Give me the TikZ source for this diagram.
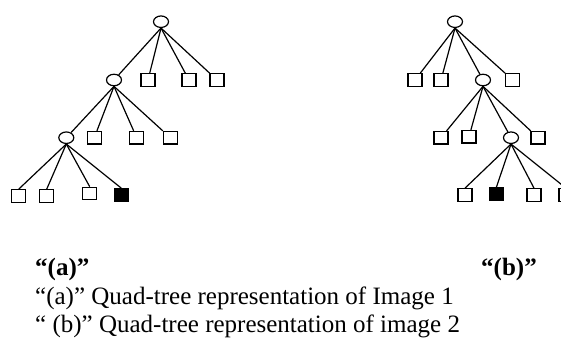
\documentclass[tikz,border=0pt]{standalone}
\usepackage{fontspec}
\setmainfont{Liberation Serif}
\usetikzlibrary{shapes.geometric}
\tikzset{
  inner/.style={draw, ellipse, line width=1.2pt, minimum width=15pt, minimum height=11.5pt, inner sep=0pt},
  leaf/.style={draw, rectangle, line width=1.2pt, minimum width=14pt, minimum height=12.5pt, inner sep=0pt},
  black leaf/.style={leaf, fill=black},
  link/.style={line width=1.2pt},
  caption/.style={anchor=base west, inner sep=0pt, font=\fontsize{25}{28}\selectfont},
  label/.style={caption, font=\fontsize{25}{28}\selectfont\bfseries}
}
\begin{document}
\begin{tikzpicture}[x=1pt,y=-1pt]
\clip (0,0) rectangle (561,340);
\fill[white] (0,0) rectangle (561,340);

% Quad-tree of image 1
\node[inner] (a0) at (161,21.7) {};
\node[inner] (a1) at (114,80) {};
\node[leaf]  (a1b) at (148,80) {};
\node[leaf]  (a1c) at (189,80) {};
\node[leaf]  (a1d) at (217,80) {};
\node[inner] (a2) at (66.3,137.7) {};
\node[leaf]  (a2b) at (94.3,137.7) {};
\node[leaf]  (a2c) at (136.7,137.7) {};
\node[leaf]  (a2d) at (170.3,137.7) {};
\node[leaf]  (a3a) at (18.7,196) {};
\node[leaf]  (a3b) at (46.7,196) {};
\node[leaf]  (a3c) at (89.7,193.5) {};
\node[black leaf] (a3d) at (121.3,195) {};
\foreach \c in {a1,a1b,a1c,a1d} \draw[link] (a0.south) -- (\c);
\foreach \c in {a2,a2b,a2c,a2d} \draw[link] (a1.south) -- (\c);
\foreach \c in {a3a,a3b,a3c,a3d} \draw[link] (a2.south) -- (\c.north);

% Quad-tree of image 2
\node[inner] (b0) at (455,21.7) {};
\node[leaf]  (b1a) at (415,80) {};
\node[leaf]  (b1b) at (441,80) {};
\node[inner] (b1) at (483,80) {};
\node[leaf]  (b1d) at (512.7,80) {};
\node[leaf]  (b2a) at (441,137.7) {};
\node[leaf]  (b2b) at (469,136.7) {};
\node[inner] (b2) at (511,137.7) {};
\node[leaf]  (b2d) at (538,137.7) {};
\node[leaf]  (b3a) at (465,195) {};
\node[black leaf] (b3b) at (496.3,194.3) {};
\node[leaf]  (b3c) at (534,195) {};
\node[leaf]  (b3d) at (566,195) {};
\foreach \c in {b1a,b1b,b1,b1d} \draw[link] (b0.south) -- (\c);
\foreach \c in {b2a,b2b,b2,b2d} \draw[link] (b1.south) -- (\c);
\foreach \c in {b3a,b3b,b3c,b3d} \draw[link] (b2.south) -- (\c.north);

% Labels and caption
\node[label] (la) at (35,275) {“(a)”};
\node[label] (lb) at (481,275) {“(b)”};
\node[caption] (ca) at (35,304.5) {“(a)” Quad-tree representation of Image 1};
\node[caption] (cb) at (35,332.5) {“ (b)” Quad-tree representation of image 2};
\end{tikzpicture}
\end{document}
